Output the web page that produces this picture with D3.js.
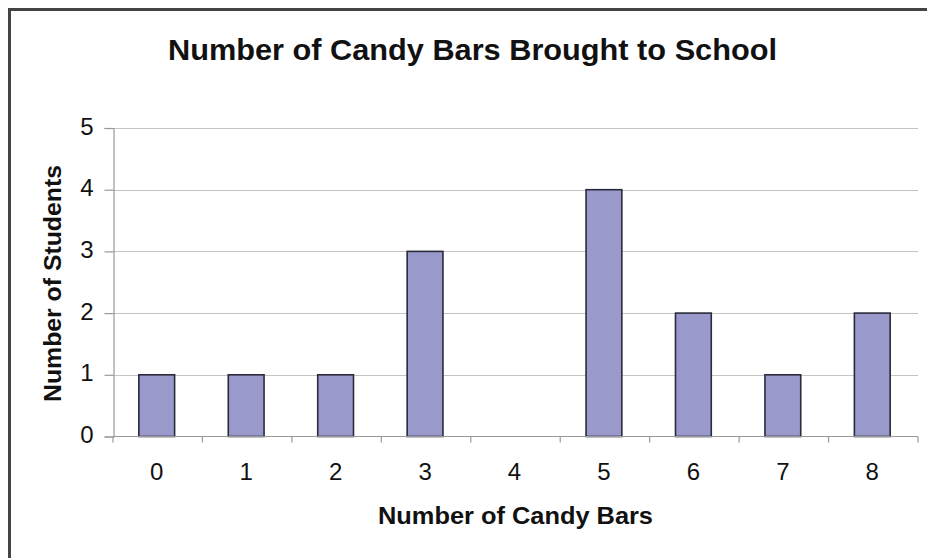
<!DOCTYPE html>
<html><head><meta charset="utf-8">
<script src="https://cdn.jsdelivr.net/npm/d3@7"></script>
<style>body{margin:0;background:#fff}svg{display:block}</style>
</head><body>
<script>
const categories = ["0","1","2","3","4","5","6","7","8"];
const values = [1,1,1,3,0,4,2,1,2];
const yTicks = [0,1,2,3,4,5];
const title = "Number of Candy Bars Brought to School";
const xTitle = "Number of Candy Bars";
const yTitle = "Number of Students";

(function () {
const W = 927, H = 558;
const FONT = "Liberation Sans, Arial, sans-serif";
const svg = d3.select("body").append("svg").attr("width", W).attr("height", H);
svg.append("rect").attr("width", W).attr("height", H).attr("fill", "#fff");

// frame (top & left visible)
svg.append("line").attr("x1", 8).attr("x2", W).attr("y1", 9.5).attr("y2", 9.5).attr("stroke", "#444").attr("stroke-width", 3);
svg.append("line").attr("x1", 9.5).attr("x2", 9.5).attr("y1", 8).attr("y2", H).attr("stroke", "#444").attr("stroke-width", 3);

const pl = 113, pr = 918, pt = 128, pb = 436.5;
const xb = d3.scaleBand().domain(categories).range([pl, pr]);
const y = d3.scaleLinear().domain([0, 5]).range([pb, pt]);

// gridlines
svg.append("g").selectAll("line").data(yTicks.filter(d => d > 0)).join("line")
  .attr("x1", pl).attr("x2", pr)
  .attr("y1", d => Math.round(y(d)) + 0.5).attr("y2", d => Math.round(y(d)) + 0.5)
  .attr("stroke", "#c4c4c4").attr("stroke-width", 1.2);

// y axis
const ya = svg.append("g").attr("transform", `translate(${pl + 0.5},0)`)
  .call(d3.axisLeft(y).tickValues(yTicks).tickSize(9).tickPadding(11).tickFormat(d3.format("d")));
ya.select(".domain").attr("stroke", "#999").attr("stroke-width", 1.2);
ya.selectAll(".tick line").attr("stroke", "#999").attr("stroke-width", 1.2);
ya.selectAll(".tick text").attr("font-family", FONT).attr("font-size", 24).attr("fill", "#111").attr("dy", "0.25em");

// bars
svg.append("g").selectAll("rect").data(values).join("rect")
  .attr("x", (d, i) => xb(categories[i]) + xb.bandwidth() * 0.3 - 1)
  .attr("width", xb.bandwidth() * 0.4)
  .attr("y", d => y(d)).attr("height", d => pb - y(d))
  .attr("fill", "#9999cc").attr("stroke", "#2a2a3a").attr("stroke-width", 1.6);

// x axis
const xa = svg.append("g").attr("transform", `translate(0,${pb})`);
xa.append("line").attr("x1", pl).attr("x2", pr).attr("stroke", "#999").attr("stroke-width", 1.2);
xa.selectAll("line.tk").data(d3.range(categories.length + 1)).join("line").attr("class", "tk")
  .attr("x1", i => pl + i * xb.step()).attr("x2", i => pl + i * xb.step())
  .attr("y1", 0).attr("y2", 6).attr("stroke", "#999").attr("stroke-width", 1.2);
xa.selectAll("text").data(categories).join("text")
  .attr("x", d => xb(d) + xb.bandwidth() / 2 - 1).attr("y", 43)
  .attr("text-anchor", "middle")
  .attr("font-family", FONT).attr("font-size", 24).attr("fill", "#111")
  .text(d => d);

function fit(sel, w) {
  sel.attr("textLength", w).attr("lengthAdjust", "spacingAndGlyphs");
}
// title
svg.append("text").attr("x", 472.5).attr("y", 59.5).attr("text-anchor", "middle")
  .attr("font-family", FONT).attr("font-weight", "bold").attr("font-size", 30)
  .attr("fill", "#111").text(title).call(fit, 609);
// x title
svg.append("text").attr("x", 515.5).attr("y", 523.5).attr("text-anchor", "middle")
  .attr("font-family", FONT).attr("font-weight", "bold").attr("font-size", 24)
  .attr("fill", "#111").text(xTitle).call(fit, 275);
// y title
svg.append("text").attr("transform", "translate(61,283.5) rotate(-90)").attr("text-anchor", "middle")
  .attr("font-family", FONT).attr("font-weight", "bold").attr("font-size", 24)
  .attr("fill", "#111").text(yTitle).call(fit, 237);
})();
</script>
</body></html>
